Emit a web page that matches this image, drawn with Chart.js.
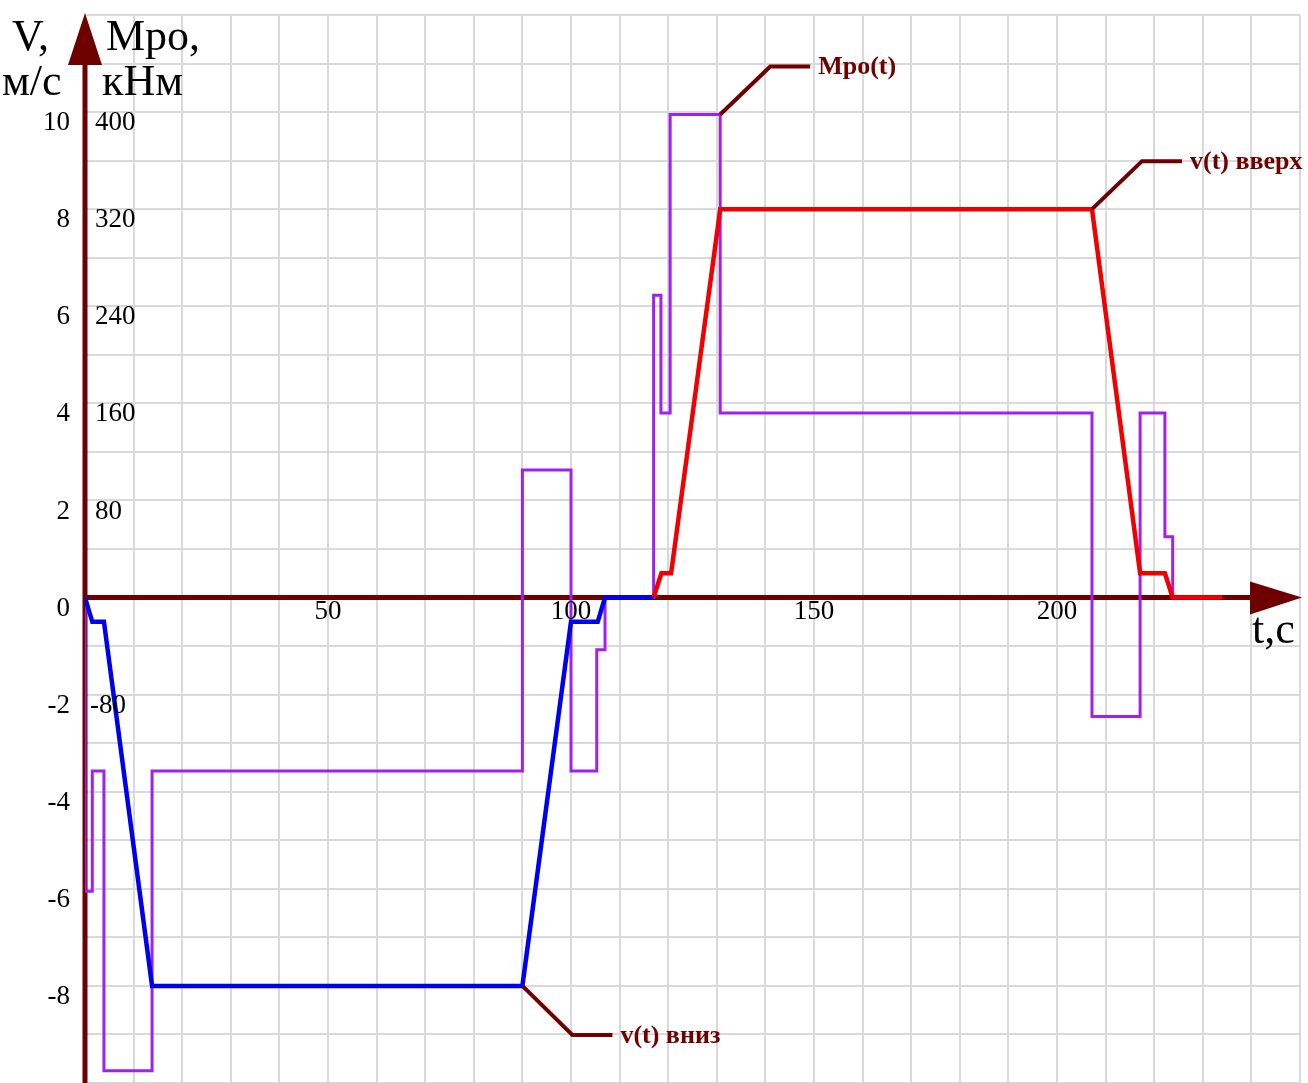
<!DOCTYPE html>
<html>
<head>
<meta charset="utf-8">
<script src="https://cdn.jsdelivr.net/npm/chart.js@4.4.1/dist/chart.umd.min.js"></script>
<style>
  html, body { margin: 0; padding: 0; background: #fff; }
  canvas { display: block; }
</style>
</head>
<body>
<canvas id="chart" width="1308" height="1083"></canvas>
<script>
// v(t) down (blue)
const downT = [0, 1.5, 3.9, 13.8, 90, 100, 105.5, 107, 117];
const downV = [0, -0.5, -0.5, -8, -8, -0.5, -0.5, 0, 0];

// v(t) up (red)
const upT = [117, 118.6, 120.6, 130.7, 207.2, 217.1, 222.2, 223.8, 234];
const upV = [0, 0.5, 0.5, 8, 8, 0.5, 0.5, 0, 0];

// Mpo(t), kNm - each level holds until the next time value
const momT = [0, 0, 1.5, 3.9, 13.8, 90, 100, 105.3, 107, 117, 118.5, 120.4, 130.7, 207.2, 217.1, 222.2, 223.8];
const momM = [0, -242, -143, -390, -143, 105, -143, -43, 0, 249, 152, 398, 152, -98, 152, 50, 0];

// tick labels
const vTicks = [10, 8, 6, 4, 2, 0, -2, -4, -6, -8];
const mTicks = [400, 320, 240, 160, 80, -80];
const tTicks = [50, 100, 150, 200];

const MAROON = "#6e0000";
const SERIF = '"Liberation Serif", "DejaVu Serif", serif';

function pts(xs, ys) {
  return xs.map((x, i) => ({ x: x, y: ys[i] }));
}

const deco = {
  id: "deco",
  beforeDatasetsDraw(chart) {
    const ctx = chart.ctx;
    const x = chart.scales.x, y = chart.scales.y;
    const x0 = x.getPixelForValue(0), y0 = y.getPixelForValue(0);
    ctx.save();
    ctx.strokeStyle = MAROON;
    ctx.lineWidth = 5;
    ctx.beginPath();
    ctx.moveTo(x0, chart.chartArea.top + 30);
    ctx.lineTo(x0, chart.height);
    ctx.moveTo(x0, y0);
    ctx.lineTo(chart.chartArea.right - 30, y0);
    ctx.stroke();
    ctx.restore();
  },
  afterDatasetsDraw(chart) {
    const ctx = chart.ctx;
    const x = chart.scales.x, y = chart.scales.y, ym = chart.scales.yM;
    const x0 = x.getPixelForValue(0), y0 = y.getPixelForValue(0);
    ctx.save();

    // arrow heads
    ctx.fillStyle = MAROON;
    ctx.beginPath();
    ctx.moveTo(x0, 13);
    ctx.lineTo(x0 - 17, 65);
    ctx.lineTo(x0 + 17, 65);
    ctx.closePath();
    ctx.fill();
    ctx.beginPath();
    ctx.moveTo(1302, y0);
    ctx.lineTo(1250, y0 - 16);
    ctx.lineTo(1250, y0 + 17);
    ctx.closePath();
    ctx.fill();

    // tick labels
    ctx.fillStyle = "#000";
    ctx.font = "27px " + SERIF;
    ctx.textBaseline = "middle";
    ctx.textAlign = "right";
    vTicks.forEach(v => ctx.fillText(String(v), 70, y.getPixelForValue(v) + 11));
    ctx.textAlign = "left";
    mTicks.forEach(m => ctx.fillText(String(m), m < 0 ? 90 : 95, ym.getPixelForValue(m) + 11));
    ctx.textAlign = "center";
    tTicks.forEach(t => ctx.fillText(String(t), x.getPixelForValue(t), y0 + 14));

    // axis titles
    ctx.font = "44px " + SERIF;
    ctx.textAlign = "left";
    ctx.textBaseline = "alphabetic";
    ctx.fillText("V,", 12, 50);
    ctx.fillText("м/с", 2, 95);
    ctx.fillText("Мро,", 106, 50);
    ctx.fillText("кНм", 102, 95);
    ctx.fillText("t,c", 1252, 643);

    // leader labels
    function leader(px, py, dx, dy, text) {
      ctx.strokeStyle = MAROON;
      ctx.lineWidth = 4;
      ctx.beginPath();
      ctx.moveTo(px, py);
      ctx.lineTo(px + dx, py + dy);
      ctx.lineTo(px + dx + 40, py + dy);
      ctx.stroke();
      ctx.fillStyle = MAROON;
      ctx.font = "bold 26px " + SERIF;
      ctx.textBaseline = "middle";
      ctx.fillText(text, px + dx + 48, py + dy + 1);
    }
    leader(x.getPixelForValue(130.7), ym.getPixelForValue(398), 50, -48, "Мро(t)");
    leader(x.getPixelForValue(207.2), y.getPixelForValue(8), 50, -48, "v(t) вверх");
    leader(x.getPixelForValue(90), y.getPixelForValue(-8), 50, 49, "v(t) вниз");

    ctx.restore();
  }
};

const gridStyle = { color: "#d9d9d9", lineWidth: 2, drawTicks: false };

new Chart(document.getElementById("chart"), {
  type: "line",
  data: {
    datasets: [
      {
        label: "v(t) вверх",
        data: pts(upT, upV),
        borderColor: "#f00000",
        borderWidth: 4.5,
        pointRadius: 0,
        order: 0,
        yAxisID: "y"
      },
      {
        label: "v(t) вниз",
        data: pts(downT, downV),
        borderColor: "#0000f0",
        borderWidth: 4.5,
        pointRadius: 0,
        order: 1,
        yAxisID: "y"
      },
      {
        label: "Мро(t)",
        data: pts(momT, momM),
        borderColor: "#a020f0",
        borderWidth: 3,
        pointRadius: 0,
        stepped: "before",
        order: 2,
        yAxisID: "yM"
      }
    ]
  },
  options: {
    responsive: false,
    animation: false,
    layout: { padding: { left: 85, right: 8, top: 15, bottom: 0 } },
    plugins: { legend: { display: false }, tooltip: { enabled: false } },
    scales: {
      x: {
        type: "linear",
        min: 0,
        max: 250,
        ticks: { stepSize: 10, display: false },
        grid: gridStyle,
        border: { display: false }
      },
      y: {
        min: -10,
        max: 12,
        ticks: { stepSize: 1, display: false },
        grid: gridStyle,
        border: { display: false }
      },
      yM: {
        display: false,
        min: -400,
        max: 480
      }
    }
  },
  plugins: [deco]
});
</script>
</body>
</html>
